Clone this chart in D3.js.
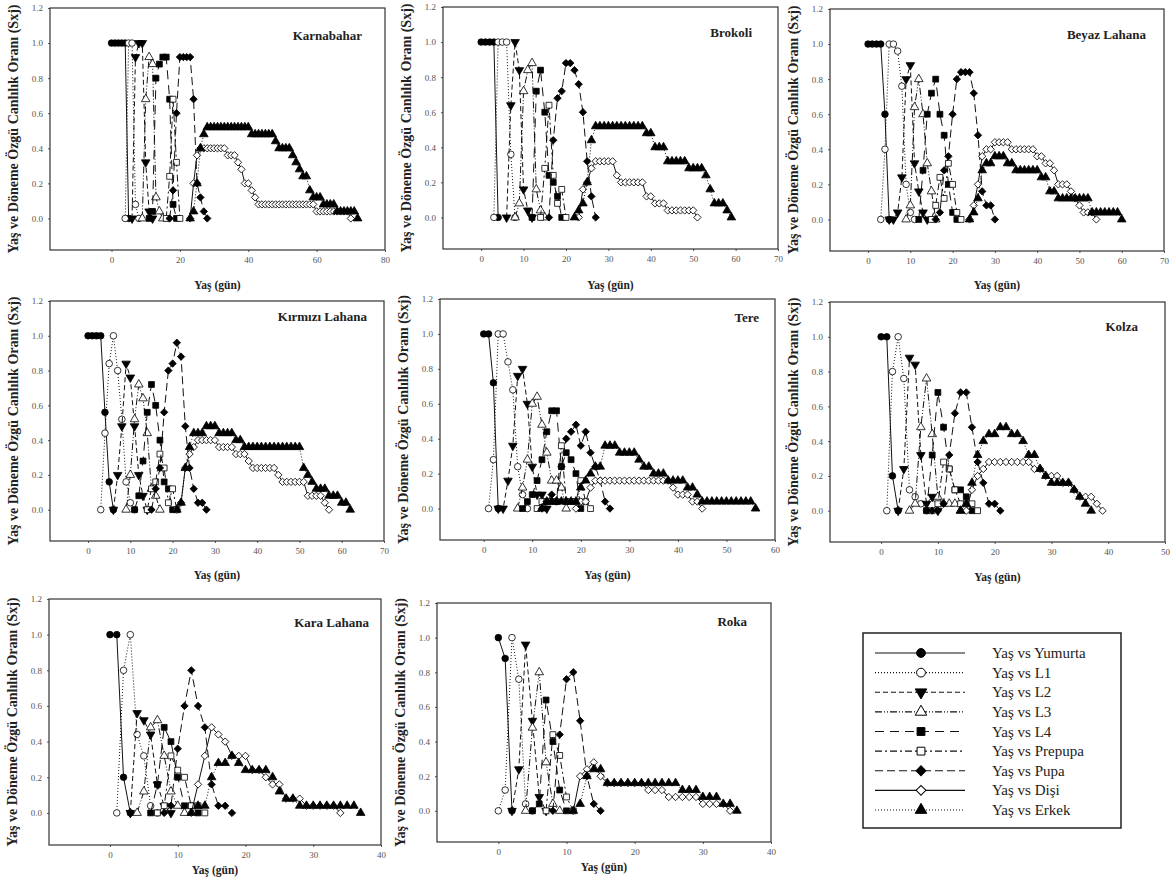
<!DOCTYPE html>
<html>
<head>
<meta charset="utf-8">
<script src="https://cdn.jsdelivr.net/npm/d3@7"></script>
<style>
  body { margin: 0; background: #fff; }
  svg { display: block; }
</style>
</head>
<body>
<div id="chart"></div>
<script>
// --- data ---------------------------------------------------------------
// each series: [first day, [values for consecutive days]]
const seriesKeys = ["yumurta", "l1", "l2", "l3", "l4", "prepupa", "pupa", "disi", "erkek"];
const seriesNames = ["Yaş vs Yumurta", "Yaş vs L1", "Yaş vs L2", "Yaş vs L3", "Yaş vs L4",
                     "Yaş vs Prepupa", "Yaş vs Pupa", "Yaş vs Dişi", "Yaş vs Erkek"];

const karnabahar = {
  yumurta: [0, [1, 1, 1, 1, 1, 0]],
  l1: [4, [0, 1, 1, 0.08, 0]],
  l2: [6, [0, 0.92, 1, 1, 0.32, 0.04, 0]],
  l3: [9, [0, 0.68, 0.92, 0.88, 0.12, 0.04, 0]],
  l4: [11, [0, 0.04, 0.8, 0.88, 0.92, 0.92, 0.68, 0.08, 0]],
  prepupa: [16, [0, 0.24, 0.68, 0.32, 0]],
  pupa: [17, [0, 0.16, 0.6, 0.92, 0.92, 0.92, 0.92, 0.68, 0.2, 0.12, 0.04, 0]],
  disi: [23, [0, 0.2, 0.36, 0.4, 0.4, 0.4, 0.4, 0.4, 0.4, 0.4, 0.4, 0.36, 0.36, 0.36, 0.32, 0.28, 0.2, 0.2, 0.16, 0.12,
              0.08, 0.08, 0.08, 0.08, 0.08, 0.08, 0.08, 0.08, 0.08, 0.08, 0.08, 0.08, 0.08, 0.08, 0.08, 0.08, 0.08,
              0.04, 0.04, 0.04, 0.04, 0.04, 0.04, 0.04, 0.04, 0.04, 0.04, 0]],
  erkek: [23, [0, 0.04, 0.2, 0.4, 0.48, 0.52, 0.52, 0.52, 0.52, 0.52, 0.52, 0.52, 0.52, 0.52, 0.52, 0.52, 0.52, 0.52,
               0.48, 0.48, 0.48, 0.48, 0.48, 0.48, 0.48, 0.44, 0.4, 0.4, 0.4, 0.4, 0.36, 0.32, 0.28, 0.24, 0.24, 0.16,
               0.12, 0.12, 0.12, 0.08, 0.08, 0.08, 0.08, 0.04, 0.04, 0.04, 0.04, 0.04, 0.04, 0]]
};

const brokoli = {
  yumurta: [0, [1, 1, 1, 1, 0]],
  l1: [3, [0, 1, 1, 1, 0.36, 0]],
  l2: [6, [0, 0.64, 1, 0.84, 0.16, 0.04, 0]],
  l3: [8, [0, 0.08, 0.72, 0.84, 0.88, 0.16, 0.04, 0]],
  l4: [12, [0, 0.72, 0.84, 0.6, 0.24, 0.2, 0.12, 0]],
  prepupa: [14, [0, 0.28, 0.64, 0.24, 0.08, 0.16, 0]],
  pupa: [16, [0, 0.44, 0.68, 0.72, 0.88, 0.88, 0.84, 0.76, 0.6, 0.32, 0.12, 0]],
  disi: [23, [0, 0.16, 0.2, 0.28, 0.32, 0.32, 0.32, 0.32, 0.32, 0.24, 0.2, 0.2, 0.2, 0.2, 0.2, 0.2, 0.12, 0.12,
              0.08, 0.08, 0.08, 0.04, 0.04, 0.04, 0.04, 0.04, 0.04, 0.04, 0]],
  erkek: [22, [0, 0.04, 0.08, 0.2, 0.44, 0.52, 0.52, 0.52, 0.52, 0.52, 0.52, 0.52, 0.52, 0.52, 0.52, 0.52, 0.52,
               0.48, 0.48, 0.4, 0.4, 0.4, 0.32, 0.32, 0.32, 0.32, 0.32, 0.28, 0.28, 0.28, 0.28, 0.24, 0.16,
               0.08, 0.08, 0.08, 0.04, 0]]
};

const beyazLahana = {
  yumurta: [0, [1, 1, 1, 1, 0.6, 0]],
  l1: [3, [0, 0.4, 1, 1, 0.96, 0.76, 0.2, 0.04, 0]],
  l2: [5, [0, 0, 0.04, 0.24, 0.8, 0.88, 0.32, 0.16, 0.04, 0]],
  l3: [9, [0, 0.08, 0.64, 0.8, 0.6, 0.32, 0.16, 0]],
  l4: [12, [0, 0.28, 0.6, 0.72, 0.8, 0.6, 0.48, 0.2, 0.04, 0]],
  prepupa: [15, [0, 0.08, 0.24, 0.12, 0.32, 0.2, 0.04, 0]],
  pupa: [16, [0, 0.04, 0.28, 0.36, 0.6, 0.8, 0.84, 0.84, 0.84, 0.72, 0.48, 0.16, 0.08, 0.08, 0]],
  disi: [24, [0, 0.08, 0.2, 0.36, 0.4, 0.4, 0.44, 0.44, 0.44, 0.44, 0.4, 0.4, 0.4, 0.4, 0.4, 0.4, 0.36, 0.36,
              0.32, 0.32, 0.28, 0.2, 0.2, 0.2, 0.16, 0.12, 0.08, 0.04, 0.04, 0.04, 0]],
  erkek: [24, [0, 0.04, 0.12, 0.28, 0.32, 0.32, 0.36, 0.36, 0.36, 0.32, 0.32, 0.28, 0.28, 0.28, 0.28, 0.28, 0.28,
               0.24, 0.24, 0.16, 0.16, 0.12, 0.12, 0.12, 0.12, 0.12, 0.12, 0.12, 0.12,
               0.04, 0.04, 0.04, 0.04, 0.04, 0.04, 0.04, 0]]
};

const kirmiziLahana = {
  yumurta: [0, [1, 1, 1, 1, 0.56, 0.16, 0]],
  l1: [3, [0, 0.44, 0.84, 1, 0.8, 0.52, 0.16, 0.04, 0]],
  l2: [6, [0, 0.2, 0.48, 0.84, 0.76, 0.48, 0.2, 0.08, 0]],
  l3: [9, [0, 0.2, 0.52, 0.72, 0.64, 0.44, 0.12, 0.08, 0]],
  l4: [11, [0, 0.08, 0.28, 0.56, 0.72, 0.6, 0.4, 0.16, 0.12, 0]],
  prepupa: [14, [0, 0.12, 0.16, 0.32, 0.24, 0.04, 0.12, 0]],
  pupa: [15, [0, 0.12, 0.24, 0.56, 0.8, 0.84, 0.96, 0.88, 0.48, 0.24, 0.12, 0.04, 0.04, 0]],
  disi: [21, [0, 0.04, 0.24, 0.32, 0.36, 0.4, 0.4, 0.4, 0.4, 0.4, 0.36, 0.36, 0.36, 0.36, 0.32, 0.32, 0.32, 0.28,
              0.24, 0.24, 0.24, 0.24, 0.24, 0.24, 0.2, 0.16, 0.16, 0.16, 0.16, 0.16, 0.16,
              0.08, 0.08, 0.08, 0.08, 0.04, 0]],
  erkek: [21, [0, 0.04, 0.24, 0.36, 0.44, 0.44, 0.44, 0.48, 0.48, 0.48, 0.44, 0.44, 0.44, 0.44, 0.4, 0.4,
               0.36, 0.36, 0.36, 0.36, 0.36, 0.36, 0.36, 0.36, 0.36, 0.36, 0.36, 0.36, 0.36, 0.36,
               0.24, 0.2, 0.16, 0.12, 0.12, 0.12, 0.08, 0.08, 0.08, 0.04, 0.04, 0]]
};

const tere = {
  yumurta: [0, [1, 1, 0.72, 0]],
  l1: [1, [0, 0.28, 1, 1, 0.84, 0.68, 0.24, 0.08, 0]],
  l2: [3, [0, 0, 0.16, 0.36, 0.76, 0.8, 0.6, 0.24, 0.08, 0.08, 0]],
  l3: [7, [0, 0.12, 0.28, 0.6, 0.64, 0.48, 0.32, 0.16, 0.16, 0.12, 0]],
  l4: [8, [0, 0.04, 0.08, 0.16, 0.28, 0.44, 0.56, 0.56, 0.24, 0.32, 0.28, 0.2, 0]],
  prepupa: [11, [0, 0.04, 0.04, 0.04, 0.04, 0.36, 0.04, 0.04, 0.04, 0.16, 0.04, 0]],
  pupa: [12, [0, 0.04, 0.08, 0.04, 0.24, 0.4, 0.44, 0.48, 0.36, 0.44, 0.32, 0.24, 0.16, 0.04, 0]],
  disi: [19, [0, 0.04, 0.04, 0.12, 0.16, 0.16, 0.16, 0.16, 0.16, 0.16, 0.16, 0.16, 0.16, 0.16, 0.16, 0.16,
              0.16, 0.16, 0.16, 0.16, 0.12, 0.08, 0.08, 0.08, 0.04, 0.04, 0]],
  erkek: [12, [0, 0.04, 0.04, 0.04, 0.04, 0.04, 0.04, 0.04, 0.12, 0.16, 0.2, 0.24, 0.24, 0.36, 0.36, 0.36,
               0.32, 0.32, 0.32, 0.32, 0.28, 0.24, 0.24, 0.2, 0.2, 0.2, 0.16, 0.16, 0.16, 0.16, 0.12, 0.12, 0.08,
               0.04, 0.04, 0.04, 0.04, 0.04, 0.04, 0.04, 0.04, 0.04, 0.04, 0.04, 0]]
};

const kolza = {
  yumurta: [0, [1, 1, 0.2, 0]],
  l1: [1, [0, 0.8, 1, 0.76, 0.12, 0.08, 0.04, 0]],
  l2: [3, [0, 0.24, 0.88, 0.84, 0.32, 0.04, 0.08, 0]],
  l3: [5, [0, 0.04, 0.48, 0.76, 0.44, 0.08, 0.04, 0.04, 0.04, 0]],
  l4: [8, [0, 0.32, 0.68, 0.48, 0.24, 0.12, 0.12, 0.08, 0]],
  prepupa: [9, [0, 0.04, 0.28, 0.24, 0.12, 0.04, 0.04, 0.04, 0]],
  pupa: [9, [0, 0, 0.04, 0.32, 0.56, 0.68, 0.68, 0.48, 0.28, 0.16, 0.04, 0.04, 0]],
  disi: [15, [0, 0.12, 0.2, 0.24, 0.28, 0.28, 0.28, 0.28, 0.28, 0.28, 0.28, 0.28, 0.24, 0.24, 0.2, 0.2, 0.2,
              0.16, 0.16, 0.12, 0.08, 0.08, 0.08, 0.04, 0]],
  erkek: [14, [0, 0.04, 0.16, 0.32, 0.4, 0.44, 0.44, 0.48, 0.48, 0.44, 0.44, 0.4, 0.32, 0.32, 0.24, 0.2,
               0.16, 0.16, 0.16, 0.16, 0.12, 0.08, 0.04, 0]]
};

const karaLahana = {
  yumurta: [0, [1, 1, 0.2, 0]],
  l1: [1, [0, 0.8, 1, 0.44, 0.32, 0.04, 0]],
  l2: [3, [0, 0.56, 0.52, 0.44, 0.16, 0.04, 0]],
  l3: [4, [0, 0.12, 0.48, 0.52, 0.32, 0.12, 0.04, 0]],
  l4: [6, [0, 0.16, 0.48, 0.4, 0.2, 0.04, 0.04, 0]],
  prepupa: [7, [0, 0.04, 0.32, 0.24, 0.2, 0.04, 0.04, 0]],
  pupa: [8, [0, 0.04, 0.36, 0.6, 0.8, 0.6, 0.48, 0.16, 0.04, 0.04, 0]],
  disi: [12, [0, 0.16, 0.32, 0.48, 0.44, 0.4, 0.32, 0.32, 0.32, 0.24, 0.24, 0.2, 0.16, 0.16, 0.08, 0.08, 0.08,
              0.04, 0.04, 0.04, 0.04, 0.04, 0]],
  erkek: [12, [0, 0.04, 0.04, 0.2, 0.28, 0.28, 0.32, 0.28, 0.24, 0.24, 0.24, 0.24, 0.2, 0.12, 0.08, 0.08,
               0.04, 0.04, 0.04, 0.04, 0.04, 0.04, 0.04, 0.04, 0.04, 0]]
};

const roka = {
  yumurta: [0, [1, 0.88, 0]],
  l1: [0, [0, 0.12, 1, 0.76, 0.04, 0]],
  l2: [2, [0, 0.24, 0.96, 0.52, 0.08, 0]],
  l3: [4, [0, 0.48, 0.8, 0.28, 0.04, 0]],
  l4: [5, [0, 0.04, 0.64, 0.4, 0.12, 0]],
  prepupa: [7, [0, 0.44, 0.32, 0.08, 0]],
  pupa: [8, [0, 0.44, 0.76, 0.8, 0.52, 0.2, 0.04, 0]],
  disi: [11, [0, 0.2, 0.24, 0.28, 0.2, 0.16, 0.16, 0.16, 0.16, 0.16, 0.16, 0.12, 0.12, 0.12,
              0.08, 0.08, 0.08, 0.08, 0.08, 0.04, 0.04, 0.04, 0.04, 0]],
  erkek: [11, [0, 0.04, 0.2, 0.24, 0.24, 0.16, 0.16, 0.16, 0.16, 0.16, 0.16, 0.16, 0.16, 0.16, 0.16, 0.16,
               0.12, 0.12, 0.12, 0.08, 0.08, 0.08, 0.04, 0.04, 0]]
};

const panelData = [karnabahar, brokoli, beyazLahana, kirmiziLahana, tere, kolza, karaLahana, roka];
const panelTitles = ["Karnabahar", "Brokoli", "Beyaz Lahana", "Kırmızı Lahana", "Tere", "Kolza", "Kara Lahana", "Roka"];
const xMins = [-18, -9, -9, -9, -9, -9, -9, -9];
const xMaxs = [80, 70, 70, 70, 60, 50, 40, 40];
const xTickValues = [
  [0, 20, 40, 60, 80],
  [0, 10, 20, 30, 40, 50, 60, 70],
  [0, 10, 20, 30, 40, 50, 60, 70],
  [0, 10, 20, 30, 40, 50, 60, 70],
  [0, 10, 20, 30, 40, 50, 60],
  [0, 10, 20, 30, 40, 50],
  [0, 10, 20, 30, 40],
  [0, 10, 20, 30, 40]
];
const yTickValues = [0, 0.2, 0.4, 0.6, 0.8, 1.0, 1.2];
const yDomain = [-0.18, 1.2];
const yTitle = "Yaş ve Döneme Özgü Canlılık Oranı (Sxj)";
const xTitle = "Yaş (gün)";

// --- layout (pixels) --------------------------------------------------------
const panels = [
  { left: 50,  top: 8,   right: 385,  bottom: 250, titleDx: 23, titleDy: 32, xLabDy: 39 },
  { left: 443, top: 7,   right: 778,  bottom: 249, titleDx: 26, titleDy: 30, xLabDy: 40 },
  { left: 830, top: 9,   right: 1164, bottom: 251, titleDx: 18, titleDy: 30, xLabDy: 38 },
  { left: 50,  top: 301, right: 384,  bottom: 541, titleDx: 17, titleDy: 20, xLabDy: 38 },
  { left: 440, top: 299, right: 775,  bottom: 540, titleDx: 16, titleDy: 23, xLabDy: 39 },
  { left: 830, top: 302, right: 1165, bottom: 542, titleDx: 27, titleDy: 29, xLabDy: 39 },
  { left: 49,  top: 599, right: 381,  bottom: 845, titleDx: 12, titleDy: 28, xLabDy: 29 },
  { left: 437, top: 603, right: 771,  bottom: 842, titleDx: 24, titleDy: 23, xLabDy: 29 }
];

const styles = {
  yumurta: { dash: null,            sym: "circle",  fill: "#000" },
  l1:      { dash: "1,2",           sym: "circle",  fill: "#fff" },
  l2:      { dash: "5,3",           sym: "triDown", fill: "#000" },
  l3:      { dash: "7,2,1,2,1,2",   sym: "triUp",   fill: "#fff" },
  l4:      { dash: "9,6",           sym: "square",  fill: "#000" },
  prepupa: { dash: "7,3,2,3",       sym: "square",  fill: "#fff" },
  pupa:    { dash: "8,4",           sym: "diamond", fill: "#000" },
  disi:    { dash: null,            sym: "diamond", fill: "#fff" },
  erkek:   { dash: "1,2",           sym: "triUp",   fill: "#000" }
};

const serif = "'Liberation Serif', 'Times New Roman', serif";

const svg = d3.select("#chart")
    .append("svg")
    .attr("width", 1173)
    .attr("height", 895)
    .style("background-color", "#fff");

function symbolPath(kind, k) {
  if (kind === "circle") return d3.symbol(d3.symbolCircle, 34 * k)();
  if (kind === "triUp" || kind === "triDown") return d3.symbol(d3.symbolTriangle, 32 * k)();
  if (kind === "square") return d3.symbol(d3.symbolSquare, 34 * k)();
  return d3.symbol(d3.symbolSquare, 27 * k)();
}
function symbolRotate(kind) {
  if (kind === "triDown") return 180;
  if (kind === "diamond") return 45;
  return 0;
}

function toPoints(s) {
  return s[1].map((v, i) => [s[0] + i, v]);
}

panels.forEach((p, i) => {
  const g = svg.append("g");
  const x = d3.scaleLinear().domain([xMins[i], xMaxs[i]]).range([p.left, p.right]);
  const y = d3.scaleLinear().domain(yDomain).range([p.bottom, p.top]);

  const xAxis = g.append("g")
      .attr("transform", `translate(0,${p.bottom})`)
      .call(d3.axisBottom(x).tickValues(xTickValues[i]).tickSize(2).tickPadding(5).tickFormat(d3.format("d")));
  const yAxis = g.append("g")
      .attr("transform", `translate(${p.left},0)`)
      .call(d3.axisLeft(y).tickValues(yTickValues).tickSize(2).tickPadding(5).tickFormat(d3.format(".1f")));
  [xAxis, yAxis].forEach(a => {
    a.select(".domain").remove();
    a.selectAll("line").attr("stroke", "#555");
    a.selectAll("text").attr("font-family", serif).attr("font-size", 9).attr("fill", "#555");
  });

  g.append("rect")
      .attr("x", p.left).attr("y", p.top)
      .attr("width", p.right - p.left).attr("height", p.bottom - p.top)
      .attr("fill", "none").attr("stroke", "#333").attr("stroke-width", 1.2);

  const line = d3.line().x(d => x(d[0])).y(d => y(d[1]));

  seriesKeys.forEach(key => {
    const st = styles[key];
    const pts = toPoints(panelData[i][key]);
    g.append("path")
        .attr("d", line(pts))
        .attr("fill", "none")
        .attr("stroke", "#111")
        .attr("stroke-width", 1)
        .attr("stroke-dasharray", st.dash);
    g.selectAll(null)
        .data(pts)
        .enter()
        .append("path")
        .attr("d", symbolPath(st.sym, 1))
        .attr("transform", d => `translate(${x(d[0])},${y(d[1])}) rotate(${symbolRotate(st.sym)})`)
        .attr("fill", st.fill)
        .attr("stroke", "#000")
        .attr("stroke-width", 0.8);
  });

  g.append("text")
      .attr("x", p.right - p.titleDx)
      .attr("y", p.top + p.titleDy)
      .attr("text-anchor", "end")
      .attr("font-family", serif)
      .attr("font-weight", "bold")
      .attr("font-size", 13)
      .attr("fill", "#222")
      .text(panelTitles[i]);

  g.append("text")
      .attr("x", (p.left + p.right) / 2)
      .attr("y", p.bottom + p.xLabDy)
      .attr("text-anchor", "middle")
      .attr("font-family", serif)
      .attr("font-weight", "bold")
      .attr("font-size", 11.5)
      .attr("fill", "#222")
      .text(xTitle);

  g.append("text")
      .attr("transform", `translate(${p.left - 32},${(p.top + p.bottom) / 2}) rotate(-90)`)
      .attr("text-anchor", "middle")
      .attr("font-family", serif)
      .attr("font-weight", "bold")
      .attr("font-size", 14)
      .attr("fill", "#222")
      .text(yTitle);
});

// --- legend -----------------------------------------------------------------
const legend = svg.append("g");
legend.append("rect")
    .attr("x", 863).attr("y", 633)
    .attr("width", 258).attr("height", 195)
    .attr("fill", "#fff").attr("stroke", "#222").attr("stroke-width", 1.5);

const rowY = d3.scalePoint().domain(seriesKeys).range([653, 810]);

seriesKeys.forEach((key, j) => {
  const st = styles[key];
  const yy = rowY(key);
  legend.append("line")
      .attr("x1", 875).attr("x2", 965)
      .attr("y1", yy).attr("y2", yy)
      .attr("stroke", "#111").attr("stroke-width", 1.2)
      .attr("stroke-dasharray", st.dash);
  legend.append("path")
      .attr("d", symbolPath(st.sym, 1.8))
      .attr("transform", `translate(921,${yy}) rotate(${symbolRotate(st.sym)})`)
      .attr("fill", st.fill)
      .attr("stroke", "#000")
      .attr("stroke-width", 1);
  legend.append("text")
      .attr("x", 992)
      .attr("y", yy + 5)
      .attr("font-family", serif)
      .attr("font-size", 15)
      .attr("fill", "#222")
      .text(seriesNames[j]);
});
</script>
</body>
</html>
